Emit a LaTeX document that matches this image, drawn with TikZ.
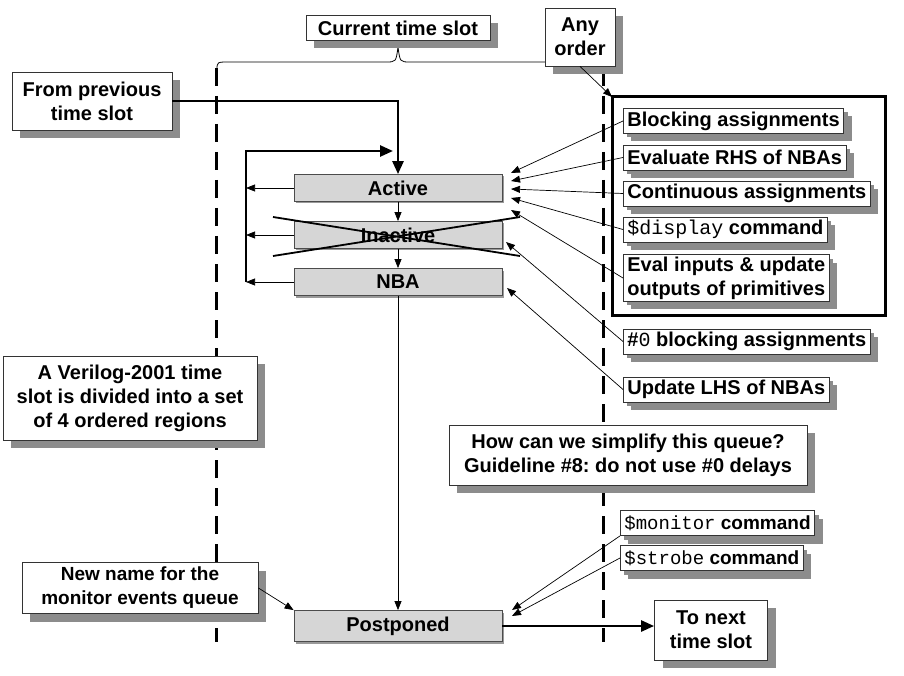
\documentclass[tikz,border=0pt]{standalone}
\usepackage{fontspec}
\setmainfont{Liberation Sans}
\setmonofont{Liberation Mono}
\usetikzlibrary{arrows.meta,shadows,positioning}
\frenchspacing

\begin{document}
\begin{tikzpicture}[x=1pt,y=-1pt,
    note/.style={draw=black!80,fill=white,line width=0.8pt,align=center,
      inner sep=2pt,font=\fontsize{20}{24}\selectfont\bfseries,
      drop shadow={shadow xshift=8pt,shadow yshift=-8pt,fill=black!45,opacity=1}},
    event/.style={note,anchor=west,minimum height=25pt,inner xsep=4pt,
      drop shadow={shadow xshift=4pt,shadow yshift=-4pt,fill=black!45,opacity=1}},
    region/.style={draw=black!70,fill=black!16,line width=0.8pt,
      minimum width=208pt,minimum height=27pt,
      font=\fontsize{20}{24}\selectfont\bfseries,
      drop shadow={shadow xshift=2pt,shadow yshift=-2pt,fill=black!40,opacity=1}},
    feed/.style={line width=0.7pt,-{Triangle[length=9pt,width=7pt]}},
    bus/.style={line width=2.6pt},
    slotline/.style={line width=3pt,dash pattern=on 18pt off 10pt}]
  \useasboundingbox (0,0) rectangle (904,676);

  % time slot borders
  \draw[slotline] (216,68) -- (216,642);
  \draw[slotline] (603,68) -- (603,642);

  % brace over the current slot
  \draw[line width=0.8pt] (217,70) .. controls (217,62) .. (229,62) -- (386,62)
    .. controls (396,62) .. (398,47) .. controls (400,62) .. (410,62) -- (560,62);

  % notes
  \node[note,minimum width=184pt,minimum height=25pt] (cur) at (398,28) {Current time slot};
  \node[note,minimum width=70pt,minimum height=58pt] (anyord) at (580,37) {Any\\order};
  \node[note,minimum width=160pt,minimum height=58pt] (prev) at (92,101) {From previous\\time slot};
  \node[note,minimum width=254pt,minimum height=84pt] (verilog) at (130,398)
    {A Verilog-2001 time\\slot is divided into a set\\of 4 ordered regions};
  \node[note,minimum width=358pt,minimum height=60pt] (simplify) at (628,455)
    {How can we simplify this queue?\\Guideline \#8: do not use \#0 delays};
  \node[note,minimum width=236pt,minimum height=51pt,font=\fontsize{19}{24}\selectfont\bfseries]
    (newname) at (140,588) {New name for the\\monitor events queue};
  \node[note,minimum width=113pt,minimum height=60pt] (tonext) at (711,630) {To next\\time slot};

  % regions
  \node[region] (active) at (398,188) {Active};
  \node[region] (inactive) at (398,235) {Inactive};
  \node[region] (nba) at (398,282) {NBA};
  \node[region,minimum height=31pt] (postp) at (398,626) {Postponed};
  \draw[line width=1.8pt] (273,217) -- (520,256);
  \draw[line width=1.8pt] (273,256) -- (520,217);

  % events in any order
  \draw[line width=3pt] (612,97) rectangle (885,315);
  \coordinate (bigbox) at (612,97);
  \node[event] (blocking) at (623,121) {Blocking assignments};
  \node[event] (evalrhs) at (623,157.5) {Evaluate RHS of NBAs};
  \node[event] (contin) at (623,193.5) {Continuous assignments};
  \node[event] (display) at (623,229.5) {{\mdseries\ttfamily\$display} command};
  \node[event] (evalinp) at (623,278) {Eval inputs \& update\\outputs of primitives};
  \node[event] (zeroblk) at (623,341.5) {\#{\mdseries\ttfamily 0} blocking assignments};
  \node[event] (updlhs) at (623,389.5) {Update LHS of NBAs};
  \node[event,font=\fontsize{19}{24}\selectfont\bfseries] (monitor) at (620,523)
    {{\mdseries\ttfamily\$monitor} command};
  \node[event,font=\fontsize{19}{24}\selectfont\bfseries] (strobe) at (620,558)
    {{\mdseries\ttfamily\$strobe} command};

  % where events land
  \coordinate (a1) at (511,173);
  \coordinate (a2) at (511,181);
  \coordinate (a3) at (511,189);
  \coordinate (a4) at (511,198);
  \coordinate (a5) at (511,210);
  \coordinate (i1) at (506,242);
  \coordinate (n1) at (507,288);
  \coordinate (p1) at (512,610);
  \coordinate (p2) at (512,616);
  \draw[feed] (blocking.west) -- (a1);
  \draw[feed] (evalrhs.west) -- (a2);
  \draw[feed] (contin.west) -- (a3);
  \draw[feed] (display.west) -- (a4);
  \draw[feed] (evalinp.west) -- (a5);
  \draw[feed] (zeroblk.west) -- (i1);
  \draw[feed] (updlhs.west) -- (n1);
  \draw[feed] (monitor.south west) -- (p1);
  \draw[feed] (strobe.west) -- (p2);
  \draw[feed] (anyord.south) -- (bigbox);
  \draw[feed] (newname.east) -- (postp.north west);

  % flow through the regions
  \coordinate (looptop) at (246,151);
  \coordinate (loopbot) at (246,282);
  \draw[bus,-{Triangle[length=13pt,width=11pt]}] (prev.east) -| (active.north);
  \draw[bus,-{Triangle[length=13pt,width=11pt]}] (loopbot) -- (looptop) -- (393,151);
  \draw[feed] (active.west) -- (active.west -| loopbot);
  \draw[feed] (inactive.west) -- (inactive.west -| loopbot);
  \draw[feed] (nba.west) -- (loopbot);
  \draw[feed] (active.south) -- (inactive.north);
  \draw[feed] (inactive.south) -- (nba.north);
  \draw[feed] (nba.south) -- (postp.north);
  \draw[bus,-{Triangle[length=13pt,width=11pt]}] (postp.east) -- (postp.east -| tonext.west);
\end{tikzpicture}
\end{document}
